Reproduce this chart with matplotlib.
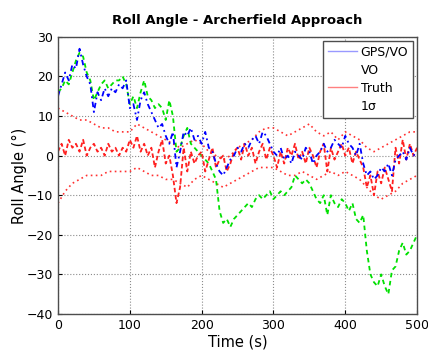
"""Roll angle estimates for the Archerfield approach."""

import matplotlib

matplotlib.use("Agg")
import matplotlib.pyplot as plt
from matplotlib.lines import Line2D

# sample times (s), every 5 s
time_s = list(range(0, 505, 5))

gps_vo = [15, 18, 21, 19, 23, 22, 27, 23, 20, 18, 11, 16, 14, 17, 15, 17, 16, 18, 17, 19,
          12, 13, 9, 14, 16, 13, 11, 9, 7, 8, 5, 3, 6, -3, 1, 6, 5, 7, 4, 5,
          3, 6, 2, 1, -2, -4, -5, -3, -1, 0, 2, 1, 3, 2, 4, 5, 3, 6, 5, 3,
          1, 0, 2, -1, 0, -2, 1, 0, -1, 2, 1, -2, 0, 1, 3, 1, 2, 4, 3, 2,
          5, 3, 2, 0, 3, -2, -5, -4, -6, -5, -3, -4, -2, -5, -1, 0, 1, -1, 2, 0, 1]

vo = [16, 17, 19, 18, 21, 24, 26, 25, 21, 19, 14, 16, 18, 19, 17, 18, 19, 19, 20, 18,
      13, 15, 12, 16, 19, 15, 14, 12, 13, 12, 9, 14, 10, 1, 2, 5, 7, 3, 2, 1,
      0, -1, -2, -4, -6, -14, -17, -16, -18, -16, -15, -14, -13, -12, -13, -11, -10, -11, -10, -9,
      -11, -10, -9, -10, -9, -8, -5, -6, -7, -6, -7, -9, -11, -12, -10, -15, -10, -12, -13, -11,
      -12, -14, -12, -16, -17, -15, -24, -30, -32, -33, -30, -33, -35, -29, -28, -24, -22, -25, -24, -22, -20]

truth = [1, 3, 0, 4, 2, 3, 1, 4, 0, 2, 3, 1, 2, 0, 3, 1, 2, 0, 2, 1,
         4, 2, 5, 1, 3, 0, 2, -3, 1, 4, -2, 0, -5, -12, -8, 2, -4, 1, -2, 0,
         1, -4, -1, 2, -3, -1, 0, -4, -2, 1, 2, -1, 3, 0, 2, -2, 1, 3, -1, 2,
         0, -3, 1, -2, 2, 0, 3, -1, 1, -2, 2, 0, -3, 1, 3, -4, 2, -1, 1, 3,
         0, 2, -2, 1, -1, -3, -8, -5, -10, -4, -7, -3, -6, -9, 2, -2, 4, -1, 3, 0, 2]

# 1-sigma bounds, every 10 s
sigma_t = list(range(0, 510, 10))
sigma_hi = [12, 11, 10, 9, 9, 8, 7, 7, 6, 6, 6, 8, 7, 6, 5, 4, 3, 2, 3, 4,
            3, 1, 0, -1, 0, 2, 3, 4, 6, 7, 7, 6, 5, 6, 7, 8, 6, 5, 6, 4,
            6, 5, 4, 2, 1, 2, 3, 4, 5, 6, 6]
sigma_lo = [-12, -9, -7, -6, -5, -5, -5, -4, -4, -4, -4, -3, -4, -5, -5, -6, -6, -7, -8, -6,
            -5, -6, -7, -8, -7, -6, -5, -4, -3, -3, -3, -4, -5, -5, -4, -5, -6, -5, -4, -5,
            -4, -5, -6, -8, -10, -11, -10, -9, -7, -6, -5]

fig = plt.figure(figsize=(4.28, 3.58), dpi=100)
ax = fig.add_axes([0.1355, 0.123, 0.839, 0.774])

ax.plot(sigma_t, sigma_hi, color="#ff3030", linestyle=(0, (1, 2)), linewidth=1.2)
ax.plot(sigma_t, sigma_lo, color="#ff3030", linestyle=(0, (1, 2)), linewidth=1.2)
ax.plot(time_s, vo, color="#00e000", linestyle=(0, (2.5, 2)), linewidth=1.3)
ax.plot(time_s, truth, color="#ff2020", linestyle=(0, (2.5, 1.5)), linewidth=1.3)
ax.plot(time_s, gps_vo, color="#0000ff", linestyle=(0, (3, 2, 1, 2)), linewidth=1.3)

ax.set_xlim(0, 500)
ax.set_ylim(-40, 30)
ax.set_xticks([0, 100, 200, 300, 400, 500])
ax.set_yticks([-40, -30, -20, -10, 0, 10, 20, 30])
ax.grid(True, linestyle=":", color="0.55", linewidth=0.8)
ax.tick_params(labelsize=9, direction="in", length=3)
for sp in ax.spines.values():
    sp.set_color("0.3")
    sp.set_linewidth(1.0)

ax.set_title("Roll Angle - Archerfield Approach", fontsize=9.5, fontweight="bold", pad=9)
ax.set_xlabel("Time (s)", fontsize=10.5, labelpad=2)
ax.set_ylabel("Roll Angle (°)", fontsize=10.5, labelpad=0)

handles = [
    Line2D([], [], color="#9999ff", linewidth=1),
    Line2D([], [], color="none"),
    Line2D([], [], color="#ff8080", linewidth=1),
    Line2D([], [], color="none"),
]
leg = ax.legend(handles, ["GPS/VO", "VO", "Truth", "1σ"], loc="upper right",
                fontsize=9, fancybox=False, framealpha=1, edgecolor="0.3",
                handlelength=2.3, handletextpad=0.3, borderaxespad=0.3,
                labelspacing=0.4)
leg.get_frame().set_linewidth(1.0)

fig.savefig("out.png", dpi=100)
plt.close(fig)
